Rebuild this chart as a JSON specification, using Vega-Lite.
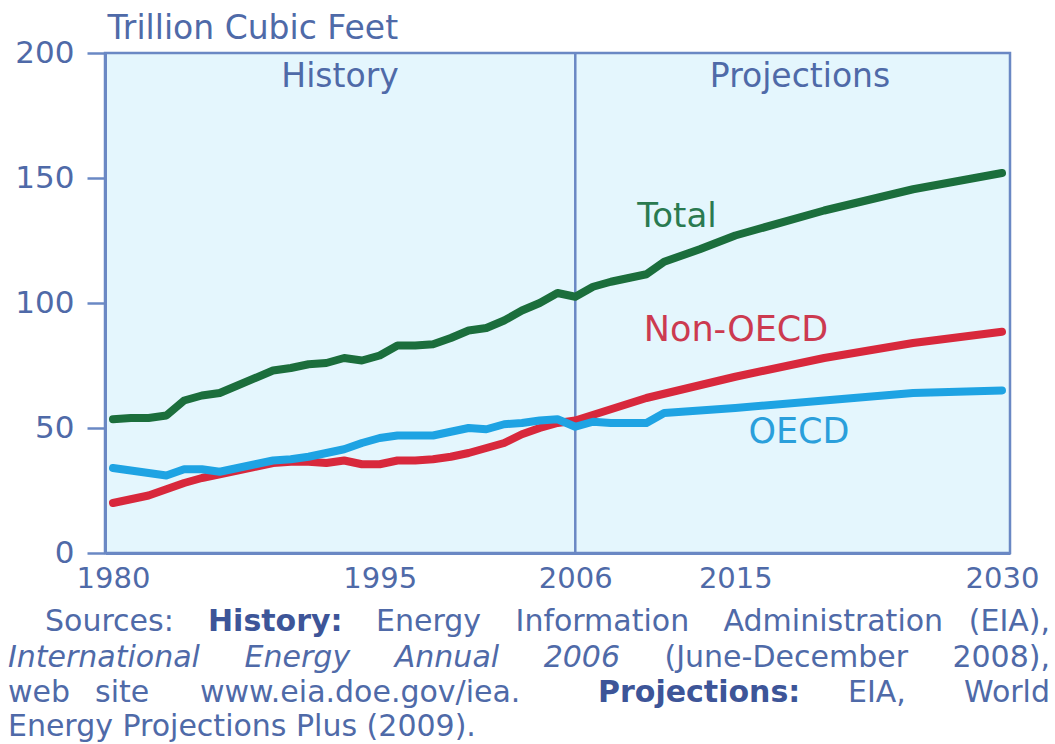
{
  "$schema": "https://vega.github.io/schema/vega-lite/v6.json",
  "width": 905,
  "height": 500,
  "autosize": {"type": "none"},
  "padding": {"left": 105, "top": 53, "right": 45, "bottom": 191},
  "background": "#ffffff",
  "config": {
    "view": {"fill": "#e4f6fd", "stroke": "#6a88c4", "strokeWidth": 2.5},
    "font": "DejaVu Sans",
    "text": {"font": "DejaVu Sans"}
  },
  "datasets": {
    "gas": [
      {"year": 1980, "series": "Total", "value": 53.5},
      {"year": 1981, "series": "Total", "value": 54},
      {"year": 1982, "series": "Total", "value": 54},
      {"year": 1983, "series": "Total", "value": 55},
      {"year": 1984, "series": "Total", "value": 61},
      {"year": 1985, "series": "Total", "value": 63},
      {"year": 1986, "series": "Total", "value": 64},
      {"year": 1987, "series": "Total", "value": 67},
      {"year": 1988, "series": "Total", "value": 70},
      {"year": 1989, "series": "Total", "value": 73},
      {"year": 1990, "series": "Total", "value": 74},
      {"year": 1991, "series": "Total", "value": 75.5},
      {"year": 1992, "series": "Total", "value": 76},
      {"year": 1993, "series": "Total", "value": 78},
      {"year": 1994, "series": "Total", "value": 77},
      {"year": 1995, "series": "Total", "value": 79},
      {"year": 1996, "series": "Total", "value": 83},
      {"year": 1997, "series": "Total", "value": 83},
      {"year": 1998, "series": "Total", "value": 83.5},
      {"year": 1999, "series": "Total", "value": 86},
      {"year": 2000, "series": "Total", "value": 89},
      {"year": 2001, "series": "Total", "value": 90},
      {"year": 2002, "series": "Total", "value": 93},
      {"year": 2003, "series": "Total", "value": 97},
      {"year": 2004, "series": "Total", "value": 100},
      {"year": 2005, "series": "Total", "value": 104},
      {"year": 2006, "series": "Total", "value": 102.5},
      {"year": 2007, "series": "Total", "value": 106.5},
      {"year": 2008, "series": "Total", "value": 108.5},
      {"year": 2009, "series": "Total", "value": 110},
      {"year": 2010, "series": "Total", "value": 111.5},
      {"year": 2011, "series": "Total", "value": 116.5},
      {"year": 2012, "series": "Total", "value": 119},
      {"year": 2013, "series": "Total", "value": 121.5},
      {"year": 2015, "series": "Total", "value": 127},
      {"year": 2020, "series": "Total", "value": 137},
      {"year": 2025, "series": "Total", "value": 145.5},
      {"year": 2030, "series": "Total", "value": 152},
      {"year": 1980, "series": "Non-OECD", "value": 20},
      {"year": 1981, "series": "Non-OECD", "value": 21.5},
      {"year": 1982, "series": "Non-OECD", "value": 23},
      {"year": 1983, "series": "Non-OECD", "value": 25.5},
      {"year": 1984, "series": "Non-OECD", "value": 28},
      {"year": 1985, "series": "Non-OECD", "value": 30},
      {"year": 1986, "series": "Non-OECD", "value": 31.5},
      {"year": 1987, "series": "Non-OECD", "value": 33},
      {"year": 1988, "series": "Non-OECD", "value": 34.5},
      {"year": 1989, "series": "Non-OECD", "value": 36},
      {"year": 1990, "series": "Non-OECD", "value": 36.5},
      {"year": 1991, "series": "Non-OECD", "value": 36.5},
      {"year": 1992, "series": "Non-OECD", "value": 36},
      {"year": 1993, "series": "Non-OECD", "value": 37},
      {"year": 1994, "series": "Non-OECD", "value": 35.5},
      {"year": 1995, "series": "Non-OECD", "value": 35.5},
      {"year": 1996, "series": "Non-OECD", "value": 37},
      {"year": 1997, "series": "Non-OECD", "value": 37},
      {"year": 1998, "series": "Non-OECD", "value": 37.5},
      {"year": 1999, "series": "Non-OECD", "value": 38.5},
      {"year": 2000, "series": "Non-OECD", "value": 40},
      {"year": 2001, "series": "Non-OECD", "value": 42},
      {"year": 2002, "series": "Non-OECD", "value": 44},
      {"year": 2003, "series": "Non-OECD", "value": 47.5},
      {"year": 2004, "series": "Non-OECD", "value": 50},
      {"year": 2005, "series": "Non-OECD", "value": 52},
      {"year": 2006, "series": "Non-OECD", "value": 53},
      {"year": 2010, "series": "Non-OECD", "value": 62},
      {"year": 2015, "series": "Non-OECD", "value": 70.5},
      {"year": 2020, "series": "Non-OECD", "value": 78},
      {"year": 2025, "series": "Non-OECD", "value": 84},
      {"year": 2030, "series": "Non-OECD", "value": 88.5},
      {"year": 1980, "series": "OECD", "value": 34},
      {"year": 1981, "series": "OECD", "value": 33},
      {"year": 1982, "series": "OECD", "value": 32},
      {"year": 1983, "series": "OECD", "value": 31},
      {"year": 1984, "series": "OECD", "value": 33.5},
      {"year": 1985, "series": "OECD", "value": 33.5},
      {"year": 1986, "series": "OECD", "value": 32.5},
      {"year": 1987, "series": "OECD", "value": 34},
      {"year": 1988, "series": "OECD", "value": 35.5},
      {"year": 1989, "series": "OECD", "value": 37},
      {"year": 1990, "series": "OECD", "value": 37.5},
      {"year": 1991, "series": "OECD", "value": 38.5},
      {"year": 1992, "series": "OECD", "value": 40},
      {"year": 1993, "series": "OECD", "value": 41.5},
      {"year": 1994, "series": "OECD", "value": 44},
      {"year": 1995, "series": "OECD", "value": 46},
      {"year": 1996, "series": "OECD", "value": 47},
      {"year": 1997, "series": "OECD", "value": 47},
      {"year": 1998, "series": "OECD", "value": 47},
      {"year": 1999, "series": "OECD", "value": 48.5},
      {"year": 2000, "series": "OECD", "value": 50},
      {"year": 2001, "series": "OECD", "value": 49.5},
      {"year": 2002, "series": "OECD", "value": 51.5},
      {"year": 2003, "series": "OECD", "value": 52},
      {"year": 2004, "series": "OECD", "value": 53},
      {"year": 2005, "series": "OECD", "value": 53.5},
      {"year": 2006, "series": "OECD", "value": 50.5},
      {"year": 2007, "series": "OECD", "value": 52.5},
      {"year": 2008, "series": "OECD", "value": 52},
      {"year": 2009, "series": "OECD", "value": 52},
      {"year": 2010, "series": "OECD", "value": 52},
      {"year": 2011, "series": "OECD", "value": 56},
      {"year": 2012, "series": "OECD", "value": 56.5},
      {"year": 2015, "series": "OECD", "value": 58},
      {"year": 2020, "series": "OECD", "value": 61},
      {"year": 2025, "series": "OECD", "value": 64},
      {"year": 2030, "series": "OECD", "value": 65}
    ],
    "one": [{}]
  },
  "encoding": {
    "x": {
      "type": "quantitative",
      "scale": {"domain": [1979.55, 2030.45], "nice": false, "zero": false},
      "axis": {
        "title": null,
        "values": [1980, 1995, 2006, 2015, 2030],
        "format": "d",
        "ticks": false,
        "grid": false,
        "domainColor": "#6a88c4",
        "domainWidth": 3,
        "labelFont": "DejaVu Sans",
        "labelFontSize": 29,
        "labelColor": "#4f6aa8",
        "labelPadding": 11,
        "labelFlush": false,
        "labelOverlap": false
      }
    },
    "y": {
      "type": "quantitative",
      "scale": {"domain": [0, 200], "nice": false},
      "axis": {
        "title": "Trillion Cubic Feet",
        "titleAngle": 0,
        "titleAlign": "left",
        "titleBaseline": "alphabetic",
        "titleX": 2,
        "titleY": -15,
        "titleFont": "DejaVu Sans",
        "titleFontSize": 33,
        "titleFontWeight": "normal",
        "titleColor": "#4f6aa8",
        "values": [0, 50, 100, 150, 200],
        "grid": false,
        "domainColor": "#6a88c4",
        "domainWidth": 3,
        "tickColor": "#6a88c4",
        "tickSize": 18,
        "tickWidth": 2.5,
        "labelFont": "DejaVu Sans",
        "labelFontSize": 31,
        "labelColor": "#4f6aa8",
        "labelPadding": 13
      }
    }
  },
  "layer": [
    {
      "data": {"name": "one"},
      "mark": {"type": "rule", "color": "#6a88c4", "strokeWidth": 2.5},
      "encoding": {"x": {"datum": 2006}, "y": {"datum": 0}, "y2": {"datum": 200}}
    },
    {
      "data": {"name": "gas"},
      "mark": {"type": "line", "strokeWidth": 8, "strokeCap": "round", "strokeJoin": "round"},
      "encoding": {
        "x": {"field": "year"},
        "y": {"field": "value"},
        "color": {
          "field": "series",
          "type": "nominal",
          "scale": {"domain": ["Total", "Non-OECD", "OECD"], "range": ["#1b6e3c", "#d8283c", "#1ea3e3"]},
          "legend": null
        }
      }
    },
    {
      "data": {"name": "one"},
      "mark": {"type": "text", "fontSize": 33, "color": "#4f6aa8", "align": "center", "baseline": "middle"},
      "encoding": {"x": {"datum": 1992.77}, "y": {"datum": 190.4}, "text": {"value": "History"}}
    },
    {
      "data": {"name": "one"},
      "mark": {"type": "text", "fontSize": 33, "color": "#4f6aa8", "align": "center", "baseline": "middle"},
      "encoding": {"x": {"datum": 2018.64}, "y": {"datum": 190.4}, "text": {"value": "Projections"}}
    },
    {
      "data": {"name": "one"},
      "mark": {"type": "text", "fontSize": 34, "color": "#2a7a50", "align": "center", "baseline": "middle"},
      "encoding": {"x": {"datum": 2011.72}, "y": {"datum": 134.4}, "text": {"value": "Total"}}
    },
    {
      "data": {"name": "one"},
      "mark": {"type": "text", "fontSize": 35, "color": "#cc3a50", "align": "center", "baseline": "middle"},
      "encoding": {"x": {"datum": 2015.04}, "y": {"datum": 89.2}, "text": {"value": "Non-OECD"}}
    },
    {
      "data": {"name": "one"},
      "mark": {"type": "text", "fontSize": 35, "color": "#2a9fdb", "align": "center", "baseline": "middle"},
      "encoding": {"x": {"datum": 2018.58}, "y": {"datum": 48.4}, "text": {"value": "OECD"}}
    },
    {
      "data": {"name": "one"},
      "mark": {"type": "text", "fontSize": 30, "color": "#4f6aa8", "align": "left", "baseline": "middle"},
      "encoding": {"x": {"datum": 1976.175}, "y": {"datum": -27.6}, "text": {"value": "Sources:"}}
    },
    {
      "data": {"name": "one"},
      "mark": {"type": "text", "fontSize": 30, "fontWeight": "bold", "color": "#3d5598", "align": "left", "baseline": "middle"},
      "encoding": {"x": {"datum": 1985.343}, "y": {"datum": -27.6}, "text": {"value": "History:"}}
    },
    {
      "data": {"name": "one"},
      "mark": {"type": "text", "fontSize": 30, "color": "#4f6aa8", "align": "left", "baseline": "middle"},
      "encoding": {"x": {"datum": 1994.79}, "y": {"datum": -27.6}, "text": {"value": "Energy"}}
    },
    {
      "data": {"name": "one"},
      "mark": {"type": "text", "fontSize": 30, "color": "#4f6aa8", "align": "left", "baseline": "middle"},
      "encoding": {"x": {"datum": 2002.64}, "y": {"datum": -27.6}, "text": {"value": "Information"}}
    },
    {
      "data": {"name": "one"},
      "mark": {"type": "text", "fontSize": 30, "color": "#4f6aa8", "align": "left", "baseline": "middle"},
      "encoding": {"x": {"datum": 2014.34}, "y": {"datum": -27.6}, "text": {"value": "Administration"}}
    },
    {
      "data": {"name": "one"},
      "mark": {"type": "text", "fontSize": 30, "color": "#4f6aa8", "align": "right", "baseline": "middle"},
      "encoding": {"x": {"datum": 2032.7}, "y": {"datum": -27.6}, "text": {"value": "(EIA),"}}
    },
    {
      "data": {"name": "one"},
      "mark": {"type": "text", "fontSize": 30, "fontStyle": "italic", "color": "#4f6aa8", "align": "left", "baseline": "middle"},
      "encoding": {"x": {"datum": 1974.09}, "y": {"datum": -42}, "text": {"value": "International"}}
    },
    {
      "data": {"name": "one"},
      "mark": {"type": "text", "fontSize": 30, "fontStyle": "italic", "color": "#4f6aa8", "align": "left", "baseline": "middle"},
      "encoding": {"x": {"datum": 1987.4}, "y": {"datum": -42}, "text": {"value": "Energy"}}
    },
    {
      "data": {"name": "one"},
      "mark": {"type": "text", "fontSize": 30, "fontStyle": "italic", "color": "#4f6aa8", "align": "left", "baseline": "middle"},
      "encoding": {"x": {"datum": 1995.85}, "y": {"datum": -42}, "text": {"value": "Annual"}}
    },
    {
      "data": {"name": "one"},
      "mark": {"type": "text", "fontSize": 30, "fontStyle": "italic", "color": "#4f6aa8", "align": "left", "baseline": "middle"},
      "encoding": {"x": {"datum": 2004.22}, "y": {"datum": -42}, "text": {"value": "2006"}}
    },
    {
      "data": {"name": "one"},
      "mark": {"type": "text", "fontSize": 30, "color": "#4f6aa8", "align": "left", "baseline": "middle"},
      "encoding": {"x": {"datum": 2011.02}, "y": {"datum": -42}, "text": {"value": "(June-December"}}
    },
    {
      "data": {"name": "one"},
      "mark": {"type": "text", "fontSize": 30, "color": "#4f6aa8", "align": "right", "baseline": "middle"},
      "encoding": {"x": {"datum": 2032.7}, "y": {"datum": -42}, "text": {"value": "2008),"}}
    },
    {
      "data": {"name": "one"},
      "mark": {"type": "text", "fontSize": 30, "color": "#4f6aa8", "align": "left", "baseline": "middle"},
      "encoding": {"x": {"datum": 1974.09}, "y": {"datum": -56}, "text": {"value": "web"}}
    },
    {
      "data": {"name": "one"},
      "mark": {"type": "text", "fontSize": 30, "color": "#4f6aa8", "align": "left", "baseline": "middle"},
      "encoding": {"x": {"datum": 1978.99}, "y": {"datum": -56}, "text": {"value": "site"}}
    },
    {
      "data": {"name": "one"},
      "mark": {"type": "text", "fontSize": 30, "color": "#4f6aa8", "align": "left", "baseline": "middle"},
      "encoding": {"x": {"datum": 1984.89}, "y": {"datum": -56}, "text": {"value": "www.eia.doe.gov/iea."}}
    },
    {
      "data": {"name": "one"},
      "mark": {"type": "text", "fontSize": 30, "fontWeight": "bold", "color": "#3d5598", "align": "left", "baseline": "middle"},
      "encoding": {"x": {"datum": 2007.28}, "y": {"datum": -56}, "text": {"value": "Projections:"}}
    },
    {
      "data": {"name": "one"},
      "mark": {"type": "text", "fontSize": 30, "color": "#4f6aa8", "align": "left", "baseline": "middle"},
      "encoding": {"x": {"datum": 2021.34}, "y": {"datum": -56}, "text": {"value": "EIA,"}}
    },
    {
      "data": {"name": "one"},
      "mark": {"type": "text", "fontSize": 30, "color": "#4f6aa8", "align": "right", "baseline": "middle"},
      "encoding": {"x": {"datum": 2032.7}, "y": {"datum": -56}, "text": {"value": "World"}}
    },
    {
      "data": {"name": "one"},
      "mark": {"type": "text", "fontSize": 30, "color": "#4f6aa8", "align": "left", "baseline": "middle"},
      "encoding": {"x": {"datum": 1974.09}, "y": {"datum": -69.6}, "text": {"value": "Energy Projections Plus (2009)."}}
    }
  ]
}
